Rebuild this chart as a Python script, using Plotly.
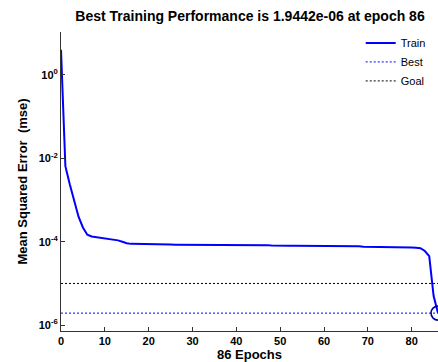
import plotly.graph_objects as go

epochs = list(range(0, 87))
train_mse = [
    4.0, 6.5e-3, 2.4e-3, 9.3e-4, 4.0e-4, 2.2e-4, 1.47e-4, 1.34e-4, 1.29e-4, 1.24e-4,
    1.20e-4, 1.17e-4, 1.14e-4, 1.08e-4, 1.0e-4, 9.2e-5, 8.9e-5, 8.9e-5, 8.8e-5, 8.8e-5,
    8.7e-5, 8.6e-5, 8.6e-5, 8.6e-5, 8.55e-5, 8.55e-5, 8.5e-5, 8.5e-5, 8.5e-5, 8.5e-5,
    8.5e-5, 8.5e-5, 8.5e-5, 8.5e-5, 8.5e-5, 8.5e-5, 8.5e-5, 8.5e-5, 8.5e-5, 8.5e-5,
    8.45e-5, 8.45e-5, 8.45e-5, 8.45e-5, 8.4e-5, 8.4e-5, 8.4e-5, 8.3e-5, 8.1e-5, 8.0e-5,
    8.0e-5, 8.0e-5, 8.0e-5, 8.0e-5, 8.0e-5, 8.0e-5, 8.0e-5, 8.0e-5, 8.0e-5, 8.0e-5,
    8.0e-5, 8.0e-5, 8.0e-5, 8.0e-5, 8.0e-5, 8.0e-5, 7.9e-5, 7.9e-5, 7.8e-5, 7.6e-5,
    7.6e-5, 7.6e-5, 7.6e-5, 7.55e-5, 7.5e-5, 7.3e-5, 7.3e-5, 7.3e-5, 7.3e-5, 7.3e-5,
    7.3e-5, 7.2e-5, 7.0e-5, 6.0e-5, 4.5e-5, 5.0e-6, 1.9442e-6,
]
best_epoch = 86
best_value = 1.9442e-6
goal_value = 1e-5
x_range = [0, 86]
y_tickvals = [1, 1e-2, 1e-4, 1e-6]
y_ticktext = ["<b>10<sup>0</sup></b>", "<b>10<sup>-2</sup></b>",
              "<b>10<sup>-4</sup></b>", "<b>10<sup>-6</sup></b>"]
x_tickvals = [0, 10, 20, 30, 40, 50, 60, 70, 80]

FONT = "Liberation Sans"

fig = go.Figure()
fig.add_trace(go.Scatter(
    x=epochs, y=train_mse, mode="lines", name="Train",
    line=dict(color="#0000ff", width=2),
))
fig.add_trace(go.Scatter(
    x=[0, best_epoch], y=[best_value, best_value], mode="lines", name="Best",
    line=dict(color="#0000ff", width=1, dash="2px,2px"),
))
fig.add_trace(go.Scatter(
    x=[0, best_epoch], y=[goal_value, goal_value], mode="lines", name="Goal",
    line=dict(color="#000000", width=1, dash="2px,2px"),
))
fig.add_trace(go.Scatter(
    x=[best_epoch], y=[best_value], mode="markers", showlegend=False,
    marker=dict(symbol="circle-open", size=14, color="#0000aa", line=dict(width=1.6)),
    cliponaxis=False,
))

fig.update_layout(
    width=438, height=362,
    margin=dict(l=61, r=0, t=32, b=31),
    paper_bgcolor="white", plot_bgcolor="white",
    font=dict(family=FONT, color="black"),
    title=dict(
        text="<b>Best Training Performance is 1.9442e-06 at epoch 86</b>",
        font=dict(size=14, family=FONT, color="black"),
        x=250 / 438, xref="container", xanchor="center",
        y=1 - 16 / 362, yref="container", yanchor="middle",
    ),
    legend=dict(
        x=0.795, y=1.012, xanchor="left", yanchor="top",
        bgcolor="rgba(255,255,255,1)", borderwidth=0,
        font=dict(size=11, family=FONT, color="black"),
        tracegroupgap=0,
    ),
    showlegend=True,
)
fig.update_xaxes(
    range=x_range, tickvals=x_tickvals, ticks="inside", ticklen=4, tickwidth=1,
    tickcolor="#333", showline=True, linecolor="#333", linewidth=1, mirror=False,
    showgrid=False, zeroline=False, automargin=False,
    tickfont=dict(size=11, family=FONT, color="black", weight="bold"),
    title=dict(text="<b>86 Epochs</b>", font=dict(size=13, family=FONT), standoff=2),
)
fig.update_yaxes(
    type="log", range=[-6.14, 1.03], tickvals=y_tickvals, ticktext=y_ticktext,
    ticks="inside", ticklen=4, tickwidth=1, tickcolor="#333",
    showline=True, linecolor="#333", linewidth=1, mirror=False,
    showgrid=False, zeroline=False, automargin=False,
    tickfont=dict(size=11, family=FONT, color="black", weight="bold"),
    title=dict(text="<b>Mean Squared Error  (mse)</b>", font=dict(size=13, family=FONT), standoff=8),
)

fig.write_html("out.html")
